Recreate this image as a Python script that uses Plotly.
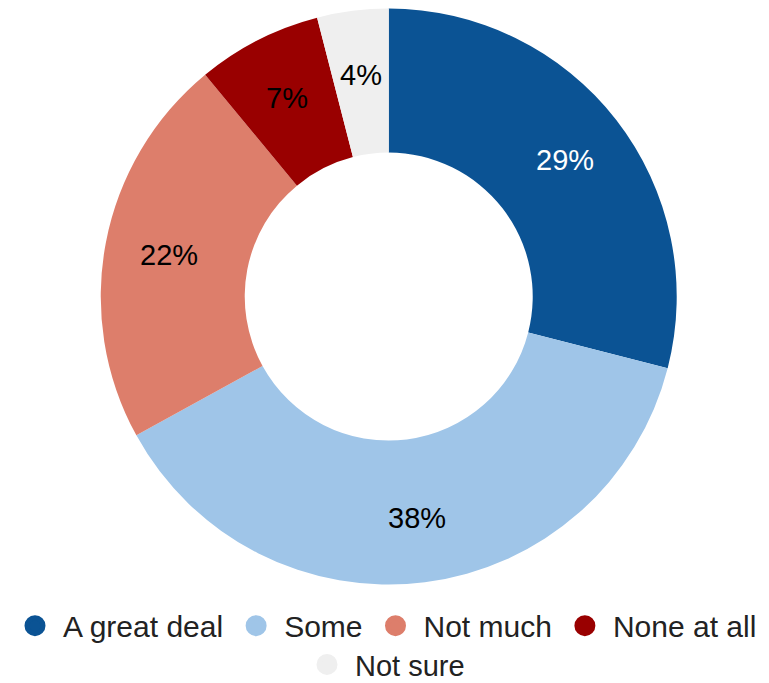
import math
import plotly.graph_objects as go

labels = ["A great deal", "Some", "Not much", "None at all", "Not sure"]
values = [29, 38, 22, 7, 4]
colors = ["#0b5394", "#9fc5e8", "#dd7e6b", "#990000", "#efefef"]
text_colors = ["#ffffff", "#000000", "#000000", "#000000", "#000000"]

FONT = "Arial, Liberation Sans, sans-serif"
W, H = 769, 683
DOM_X = [0.131, 0.880]
DOM_Y = [0.1435, 0.988]

fig = go.Figure()

fig.add_trace(go.Pie(
    labels=labels,
    values=values,
    hole=0.5,
    sort=False,
    direction="clockwise",
    rotation=0,
    marker=dict(colors=colors, line=dict(width=0)),
    textinfo="none",
    showlegend=False,
    domain=dict(x=DOM_X, y=DOM_Y),
))

# Percentage labels placed at each slice's mid-angle, midway through the ring
cx = (DOM_X[0] + DOM_X[1]) / 2
cy = (DOM_Y[0] + DOM_Y[1]) / 2
outer = min((DOM_X[1] - DOM_X[0]) * W, (DOM_Y[1] - DOM_Y[0]) * H) / 2
label_r = outer * 0.775
total = sum(values)
cum = 0
for v, tc in zip(values, text_colors):
    mid = (cum + v / 2) / total * 2 * math.pi
    cum += v
    fig.add_annotation(
        x=cx + label_r * math.sin(mid) / W,
        y=cy + label_r * math.cos(mid) / H,
        xref="paper", yref="paper",
        text=f"{round(v / total * 100)}%",
        showarrow=False,
        font=dict(family=FONT, size=29, color=tc),
        xanchor="center", yanchor="middle",
    )

# Legend entries with round markers; first four on one row, last one below
for i, (lab, col) in enumerate(zip(labels, colors)):
    fig.add_trace(go.Scatter(
        x=[None], y=[None], mode="markers", name=lab,
        marker=dict(symbol="circle", size=22, color=col, line=dict(width=6, color=col)),
        showlegend=True,
        legend="legend" if i < 4 else "legend2",
    ))

fig.update_layout(
    width=W, height=H,
    margin=dict(l=0, r=0, t=0, b=0, autoexpand=False),
    paper_bgcolor="white", plot_bgcolor="white",
    font=dict(family=FONT, size=30, color="#222222"),
    xaxis=dict(visible=False), yaxis=dict(visible=False),
    legend=dict(orientation="h", x=0.5, xanchor="center", y=0.084, yanchor="middle",
                font=dict(family=FONT, size=30, color="#222222"),
                itemwidth=46, tracegroupgap=0),
    legend2=dict(orientation="h", x=0.5, xanchor="center", y=0.027, yanchor="middle",
                 font=dict(family=FONT, size=29, color="#222222"),
                 itemwidth=46),
)

fig.write_html("out.html")
